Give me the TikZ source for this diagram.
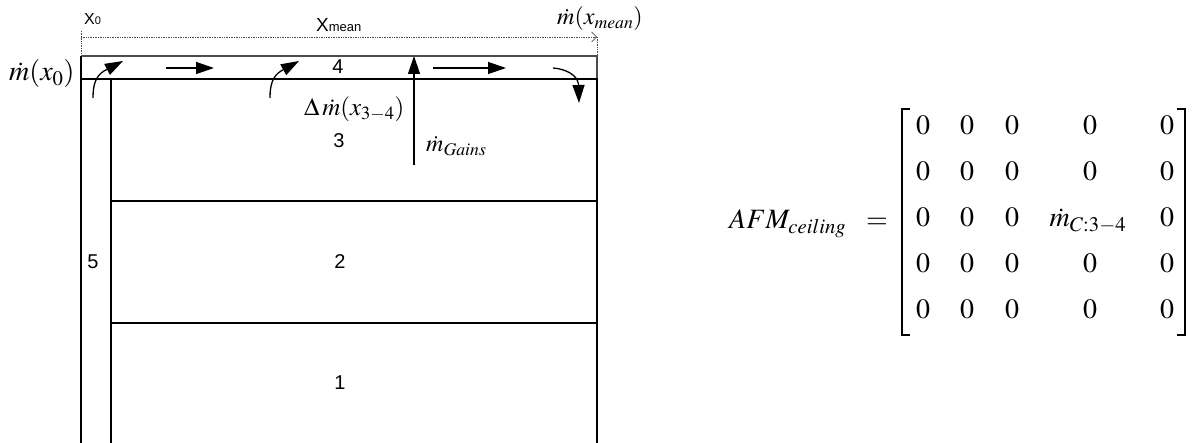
\documentclass[tikz,border=0pt]{standalone}
\usepackage{mathptmx}
\usepackage[no-math]{fontspec}
\setmainfont{Liberation Serif}
\newfontfamily\arial{Liberation Sans}
\usetikzlibrary{arrows.meta}
\begin{document}
\begin{tikzpicture}[x=1pt,y=-1pt,
  wall/.style={line width=1.6pt},
  thinwall/.style={line width=1.1pt},
  flow/.style={line width=1.3pt,-{Triangle[length=18pt,width=12pt]}},
  dim/.style={densely dotted, line width=0.7pt, black!70},
  num/.style={font=\arial\fontsize{20}{22}\selectfont, inner sep=0pt},
  lab/.style={font=\fontsize{24}{28}\selectfont, inner sep=0pt},
  mat/.style={font=\fontsize{28}{32}\selectfont, inner sep=0pt, anchor=base},
  brk/.style={line width=1.1pt},
]
\useasboundingbox (0,0) rectangle (1194,443);
% room outline
\coordinate (TL) at (81,56);  \coordinate (TR) at (597,56);
\coordinate (SL) at (81,79);  \coordinate (SR) at (597,79);
\coordinate (BL) at (81,443); \coordinate (BR) at (597,443);
\coordinate (IL) at (111,79); \coordinate (IB) at (111,443);
\coordinate (L2a) at (111,201); \coordinate (L2b) at (597,201);
\coordinate (L1a) at (111,323); \coordinate (L1b) at (597,323);
\draw[thinwall, black!70] (TL) -- (TR) -- (SR);
\draw[wall] (TL) -- (BL);
\draw[wall] (SL) -- (SR) -- (BR);
\draw[thinwall] (IL) -- (IB);
\draw[wall] (L2a) -- (L2b);
\draw[wall] (L1a) -- (L1b);
% dimension line
\coordinate (D0) at (81,31); \coordinate (D1) at (81,37); \coordinate (D2) at (597,37);
\draw[dim] (D0) -- (TL);
\draw[dim] (D2) -- (TR);
\draw[dim, -{Straight Barb[length=5pt,width=10pt]}] (D1) -- (D2);
% flow arrows
\coordinate (a1s) at (93,98);   \coordinate (a1e) at (123,61);
\coordinate (a2s) at (270,98);  \coordinate (a2e) at (299,61);
\coordinate (a3s) at (553,68);  \coordinate (a3e) at (579,103);
\coordinate (h1s) at (166,68);  \coordinate (h1e) at (214,68);
\coordinate (h2s) at (433,68);  \coordinate (h2e) at (506,68);
\coordinate (gs) at (414,165);  \coordinate (ge) at (414,56);
\draw[flow] (a1s) .. controls (93,84) and (96,76) .. (104,71) -- (a1e);
\draw[flow] (a2s) .. controls (270,84) and (273,76) .. (281,71) -- (a2e);
\draw[flow] (a3s) .. controls (566,69) and (577,75) .. (578.5,84) -- (a3e);
\draw[flow] (h1s) -- (h1e);
\draw[flow] (h2s) -- (h2e);
\draw[flow] (gs) -- (ge);
% labels
\node[inner sep=0pt, anchor=base west, font=\arial\fontsize{16}{18}\selectfont] (x0) at (84,25) {X{\fontsize{11}{13}\selectfont 0}};
\node[inner sep=0pt, anchor=base west, font=\arial\fontsize{19}{21}\selectfont] (xm) at (316,32) {X{\fontsize{13}{15}\selectfont mean}};
\node[lab, anchor=base west] (mxm) at (557,25) {$\dot m(x_{mean})$};
\node[lab, anchor=base west, font=\fontsize{28}{32}\selectfont] (mx0) at (9,81) {$\dot m(x_0)$};
\node[lab, anchor=base west, font=\fontsize{25}{29}\selectfont] (dm) at (304,116) {$\Delta\,\dot m(x_{3-4})$};
\node[lab, anchor=base west] (mg) at (426,152) {$\dot m_{Gains}$};
\node[num] (z4) at (338,67) {4};
\node[num] (z3) at (339,141) {3};
\node[num] (z5) at (93,262) {5};
\node[num] (z2) at (340,262) {2};
\node[num] (z1) at (340,383) {1};
% matrix
\node[mat, anchor=base west] (afm) at (729,229) {$AFM_{ceiling}$};
\node[mat] (eq) at (877,229) {$=$};
\foreach \y in {135,181,227,273,319}
  \foreach \x in {923,967,1012,1167}
    \node[mat] (m-\x-\y) at (\x,\y) {$0$};
\foreach \y in {135,181,273,319}
  \node[mat] (m-1090-\y) at (1090,\y) {$0$};
\node[mat] (mc) at (1088,227) {$\dot m_{C:3-4}$};
\coordinate (bl1) at (910,109); \coordinate (bl2) at (902,109);
\coordinate (bl3) at (902,335); \coordinate (bl4) at (910,335);
\coordinate (br1) at (1177,109); \coordinate (br2) at (1185,109);
\coordinate (br3) at (1185,335); \coordinate (br4) at (1177,335);
\draw[brk] (bl1) -- (bl2) -- (bl3) -- (bl4);
\draw[brk] (br1) -- (br2) -- (br3) -- (br4);
\end{tikzpicture}
\end{document}
